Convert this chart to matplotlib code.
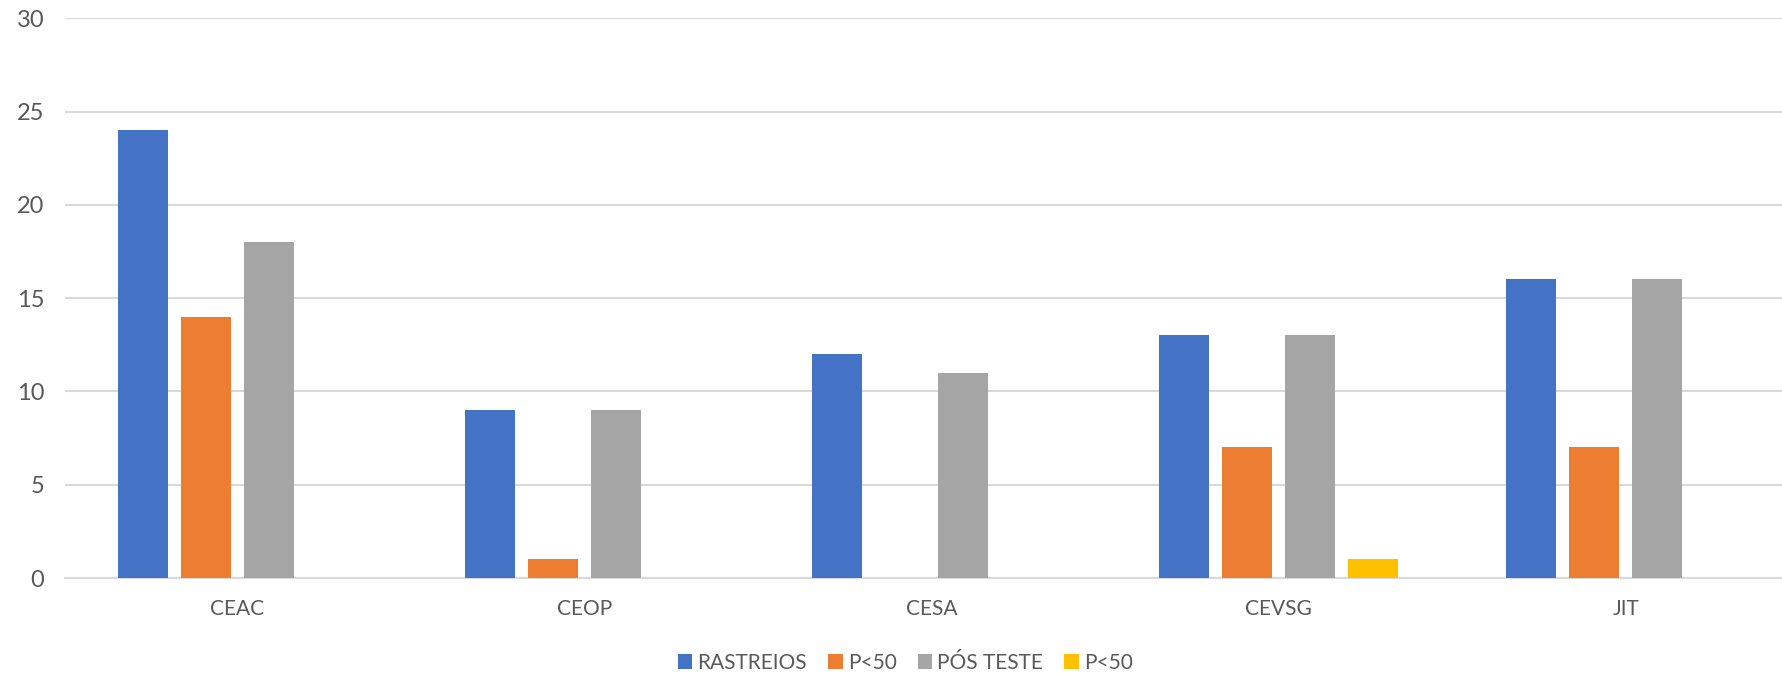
import matplotlib.pyplot as plt
import numpy as np

categories = ["CEAC", "CEOP", "CESA", "CEVSG", "JIT"]
series_names = ["RASTREIOS", "P<50", "PÓS TESTE", "P<50"]
rastreios = [24, 9, 12, 13, 16]
p50_a = [14, 1, 0, 7, 7]
pos_teste = [18, 9, 11, 13, 16]
p50_b = [0, 0, 0, 1, 0]
y_ticks = [0, 5, 10, 15, 20, 25, 30]

colors = ["#4472C4", "#ED7D31", "#A5A5A5", "#FFC000"]

plt.rcParams['font.family'] = ['Lato', 'DejaVu Sans']

fig = plt.figure(figsize=(17.82, 6.75), dpi=100)
ax = fig.add_axes([0.0365, 0.1437, 0.9635, 0.8293])

x = np.arange(len(categories))
width = 0.144
pitch = 0.1816
all_series = [rastreios, p50_a, pos_teste, p50_b]
for i, vals in enumerate(all_series):
    offs = (i - 1.5) * pitch
    ax.bar(x + offs, vals, width, color=colors[i], label=series_names[i], zorder=3)

# plot area is cut off at the right edge like the original
ax.set_xlim(-0.497, 4.45)
ax.set_ylim(0, 30)
ax.set_yticks(y_ticks)
ax.set_xticks(x)
ax.set_xticklabels(categories)
ax.tick_params(axis='both', length=0, colors='#595959')
ax.tick_params(axis='x', pad=15, labelsize=15)
ax.tick_params(axis='y', pad=15, labelsize=17)
ax.grid(axis='y', color='#D9D9D9', linewidth=1.5, zorder=0)
for s in ['top', 'right', 'left']:
    ax.spines[s].set_visible(False)
ax.spines['bottom'].set_color('#D9D9D9')
ax.spines['bottom'].set_linewidth(1.5)

leg = fig.legend(loc='center', bbox_to_anchor=(0.508, 0.018), ncol=4, frameon=False,
                 fontsize=15, handlelength=0.7, handleheight=0.7,
                 handletextpad=0.25, columnspacing=1.0)
for t in leg.get_texts():
    t.set_color('#595959')

plt.savefig("out.png", dpi=100)
